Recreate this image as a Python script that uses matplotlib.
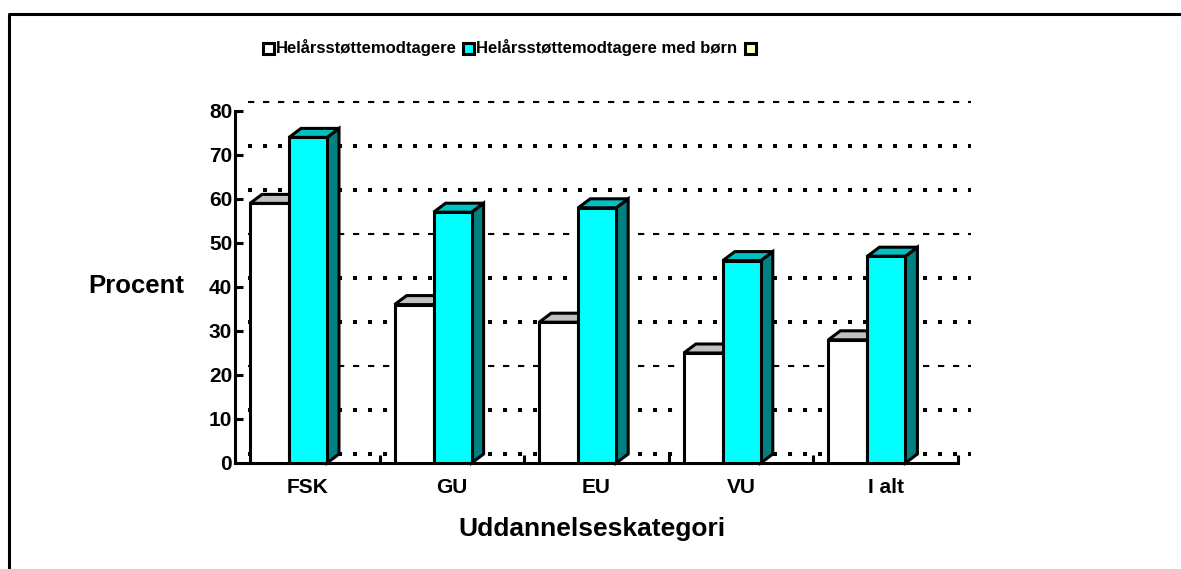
import matplotlib
matplotlib.use("Agg")
import matplotlib.pyplot as plt
from matplotlib.patches import Polygon, Rectangle
from matplotlib.lines import Line2D

plt.rcParams['font.family'] = ['Liberation Sans', 'DejaVu Sans']
plt.rcParams['font.weight'] = 'bold'
plt.rcParams['lines.scale_dashes'] = False

# ---- data ----
categories = ['FSK', 'GU', 'EU', 'VU', 'I alt']
helaar = [59, 36, 32, 25, 28]
helaar_boern = [74, 57, 58, 46, 47]
yticks = [0, 10, 20, 30, 40, 50, 60, 70, 80]
legend_labels = ['Helårsstøttemodtagere', 'Helårsstøttemodtagere med børn', '']
xlabel = 'Uddannelseskategori'
ylabel = 'Procent'

W, H = 1181, 569
fig = plt.figure(figsize=(W / 100, H / 100), dpi=100)
fig.patch.set_facecolor('white')

# plot area (front plane)
x0, x1, yb, yt = 235, 958, 463, 111
ax = fig.add_axes([x0 / W, (H - yb) / H, (x1 - x0) / W, (yb - yt) / H])
ax.set_xlim(0, len(categories))
ax.set_ylim(0, 80)
ax.patch.set_alpha(0)
for s in ['top', 'right']:
    ax.spines[s].set_visible(False)
for s in ['left', 'bottom']:
    ax.spines[s].set_linewidth(2.2)
    ax.spines[s].set_color('black')

pxx = len(categories) / (x1 - x0)
pxy = 80 / (yb - yt)

# back-wall gridlines (3D offset)
gdx, gdy = 13 * pxx, 9 * pxy
for v in yticks:
    if v in (80, 50, 20):
        lw, dash = 1.5, (4.5, 6.3)
    else:
        lw, dash = 2.9, (2.9, 7.9)
    ax.add_line(Line2D([gdx, len(categories) + gdx], [v + gdy, v + gdy],
                       color='black', lw=lw, dashes=dash, clip_on=False, zorder=1))

# bars
bdx, bdy = 12 * pxx, 9 * pxy
wl, ww = 15 * pxx, 39 * pxx
cl, cw = 54 * pxx, 38 * pxx
lw_edge = 2.2
xs = list(range(len(categories)))

for i, v in enumerate(helaar):
    L, R = i + wl, i + wl + ww
    top = Polygon([[L, v], [R, v], [R + bdx, v + bdy], [L + bdx, v + bdy]],
                  closed=True, facecolor='#C0C0C0', edgecolor='black', lw=lw_edge,
                  joinstyle='miter', zorder=3, clip_on=False)
    ax.add_patch(top)
ax.bar([i + wl for i in xs], helaar, width=ww, align='edge', color='white',
       edgecolor='black', linewidth=lw_edge, zorder=4, clip_on=False)

for i, v in enumerate(helaar_boern):
    L, R = i + cl, i + cl + cw
    side = Polygon([[R, 0], [R + bdx, bdy], [R + bdx, v + bdy], [R, v]],
                   closed=True, facecolor='#008080', edgecolor='black', lw=lw_edge,
                   joinstyle='miter', zorder=5, clip_on=False)
    top = Polygon([[L, v], [R, v], [R + bdx, v + bdy], [L + bdx, v + bdy]],
                  closed=True, facecolor='#00C0C0', edgecolor='black', lw=lw_edge,
                  joinstyle='miter', zorder=5, clip_on=False)
    ax.add_patch(side)
    ax.add_patch(top)
ax.bar([i + cl for i in xs], helaar_boern, width=cw, align='edge', color='#00FFFF',
       edgecolor='black', linewidth=lw_edge, zorder=6, clip_on=False)

# ticks
ax.set_yticks(yticks)
ax.set_yticklabels([str(t) for t in yticks])
ax.tick_params(axis='y', direction='in', length=5.8, width=2.2, pad=2,
               labelsize=15, colors='black')
ax.set_xticks(list(range(len(categories) + 1)))
ax.set_xticklabels([])
ax.set_xticks([i + 0.5 for i in xs], minor=True)
ax.set_xticklabels(categories, minor=True)
ax.tick_params(axis='x', which='major', direction='in', length=5.8, width=2.2)
ax.tick_params(axis='x', which='minor', length=0, pad=11, labelsize=15)

# axis titles
fig.text(136 / W, 1 - 286 / H, ylabel, ha='center', va='center', fontsize=18.5,
         fontweight='bold')
fig.text(592 / W, 1 - 529 / H, xlabel, ha='center', va='center', fontsize=19,
         fontweight='bold')

# legend (drawn manually)
leg_colors = ['white', '#00FFFF', '#FFFFC0']
leg_x = [263, 463, 745]
for lx, col, lab in zip(leg_x, leg_colors, legend_labels):
    fig.add_artist(Rectangle((lx / W, 1 - 53.5 / H), 10.5 / W, 10.5 / H,
                             transform=fig.transFigure, facecolor=col,
                             edgecolor='black', lw=2.2))
    if lab:
        fig.text((lx + 13) / W, 1 - 48 / H, lab, ha='left', va='center',
                 fontsize=12, fontweight='bold')

# outer frame (top and left)
fig.add_artist(Line2D([9.5 / W, 9.5 / W, 1.0], [0.0, 1 - 13.5 / H, 1 - 13.5 / H],
                      transform=fig.transFigure, color='black', lw=2.2))

fig.savefig('out.png', dpi=100)
